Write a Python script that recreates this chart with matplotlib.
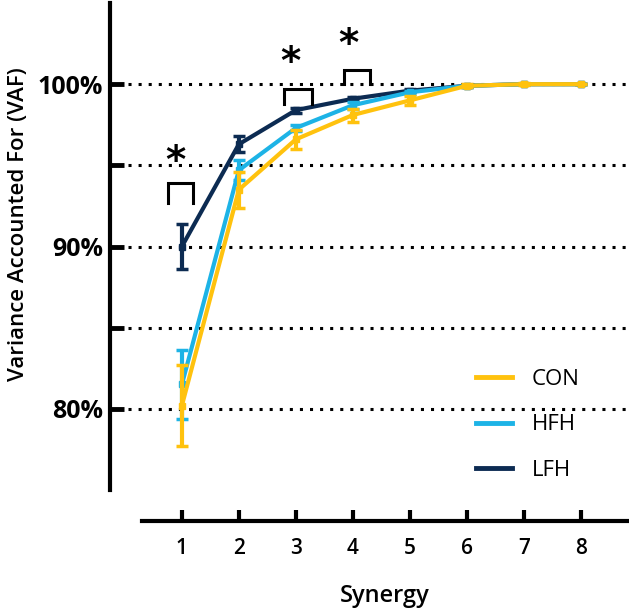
import numpy as np
import matplotlib
matplotlib.use('Agg')
import matplotlib.pyplot as plt
from matplotlib.lines import Line2D

plt.rcParams['font.family'] = ['Open Sans', 'DejaVu Sans']

synergy = [1, 2, 3, 4, 5, 6, 7, 8]
groups = ['CON', 'HFH', 'LFH']
con_mean = [80.2, 93.5, 96.6, 98.1, 99.0, 99.9, 100.0, 100.0]
con_err = [2.5, 1.1, 0.6, 0.4, 0.3, 0.1, 0.05, 0.0]
hfh_mean = [81.5, 94.7, 97.3, 98.7, 99.5, 99.9, 100.0, 100.0]
hfh_err = [2.1, 0.6, 0.2, 0.2, 0.1, 0.05, 0.0, 0.0]
lfh_mean = [90.0, 96.3, 98.4, 99.1, 99.6, 99.9, 100.0, 100.0]
lfh_err = [1.4, 0.5, 0.15, 0.1, 0.1, 0.05, 0.0, 0.0]
colors = {'CON': '#FFC20E', 'HFH': '#1DB3E6', 'LFH': '#0C2B52'}

# significance brackets: (x_left, x_right, top, bottom, star_x, star_y)
sig_marks = [
    (0.75, 1.20, 93.9, 92.7, 0.88, 95.2),
    (2.79, 3.28, 99.7, 98.8, 2.91, 101.3),
    (3.84, 4.30, 100.9, 100.0, 3.93, 102.4),
]

fig = plt.figure(figsize=(6.29, 6.08), dpi=100)
ax = fig.add_axes([142 / 629, 118 / 608, 486 / 629, 487 / 608])

series = [('LFH', lfh_mean, lfh_err, 3),
          ('HFH', hfh_mean, hfh_err, 4),
          ('CON', con_mean, con_err, 5)]
for name, m, e, z in series:
    ax.errorbar(synergy, m, yerr=e, color=colors[name], lw=3,
                elinewidth=3, capsize=4.5, capthick=2.5,
                marker='s', markersize=5, zorder=z)

for xl, xr, top, bot, sx, sy in sig_marks:
    ax.plot([xl, xl, xr, xr], [bot, top, top, bot], color='black',
            lw=2.2, solid_joinstyle='miter', zorder=6)
    ax.text(sx, sy, '*', ha='center', va='center', fontsize=28,
            fontweight='bold', color='black', family='DejaVu Sans')

ax.set_xlim(0.3, 8.83)
ax.set_ylim(75, 105)

# dotted reference lines start just right of the offset y spine
for yv in [80, 85, 90, 95, 100]:
    ax.axhline(yv, xmin=-14 / 486, xmax=1, color='black', lw=2.2,
               linestyle=(0, (1, 2.3)), zorder=1, clip_on=False)

ax.spines['top'].set_visible(False)
ax.spines['right'].set_visible(False)
ax.spines['left'].set_position(('outward', 23))     # points, ~32 px
ax.spines['bottom'].set_position(('outward', 22.3))
ax.spines['left'].set_linewidth(3)
ax.spines['bottom'].set_linewidth(3)

ax.set_xticks(synergy)
ax.set_xticklabels([str(s) for s in synergy], fontsize=15,
                   fontweight='semibold')
ax.set_yticks([80, 90, 100])
ax.set_yticklabels(['80%', '90%', '100%'], fontsize=18, fontweight='bold')
ax.set_yticks([85, 95], minor=True)
ax.tick_params(axis='y', which='both', direction='in', length=10, width=3.5,
               pad=5)
ax.tick_params(axis='x', direction='in', length=8, width=3, pad=12)

ax.set_xlabel('Synergy', fontsize=17, fontweight='semibold', labelpad=18)
ax.set_ylabel('Variance Accounted For (VAF)', fontsize=16,
              fontweight='semibold')
ax.yaxis.set_label_coords((29 - 142) / 486, (490 - 224) / 487)

handles = [Line2D([0], [0], color=colors[g], lw=3.5) for g in groups]
fig.legend(handles, groups, loc='upper left',
           bbox_to_anchor=(476 / 629, 1 - 369 / 608), frameon=False,
           fontsize=16, handlelength=1.6, handletextpad=0.9,
           labelspacing=1.1, borderpad=0, borderaxespad=0)

fig.savefig('out.png', dpi=100)
